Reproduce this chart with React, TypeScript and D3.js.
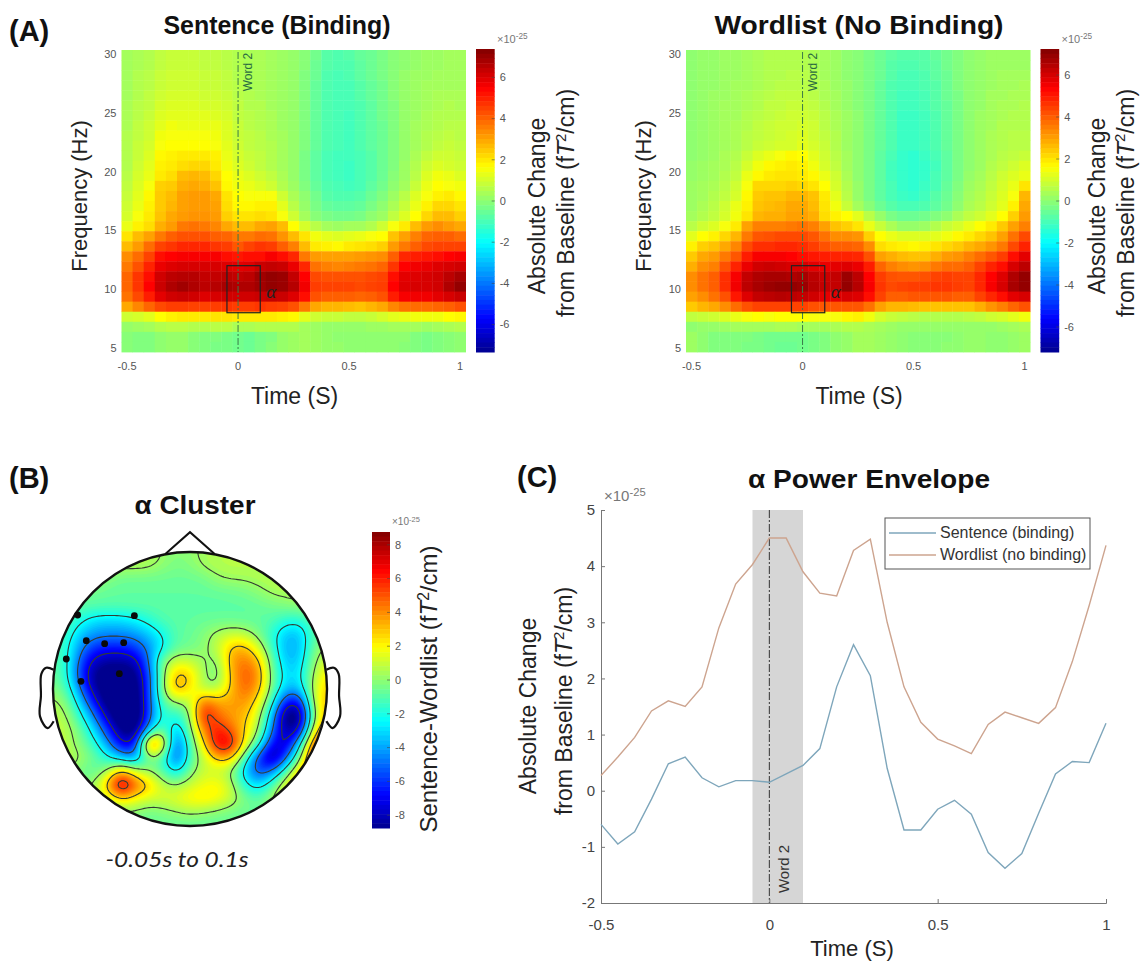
import React, { useEffect, useRef } from "react";
import * as d3 from "d3";

// time axis shared by every panel
const times = d3.range(31).map((i) => -0.5 + i * 0.05);
const timeTicks = [-0.5, 0, 0.5, 1];
const freqTicks = [5, 10, 15, 20, 25, 30];
const cbTicks = [-6, -4, -2, 0, 2, 4, 6];
const topoTicks = [-8, -6, -4, -2, 0, 2, 4, 6, 8];

// TFR cells, first row is the top of the plot (30 Hz), units of 1e-25
const sentenceTFR = [
  [.3,.4,.5,.7,.8,.8,.8,.7,.7,.6,.5,.4,.4,.3,.2,.1,-.1,-.4,-.8,-.9,-.8,-.6,-.5,-.3,-.1,0,.1,.2,.2,.3,.3],
  [.3,.4,.5,.7,.8,.8,.8,.7,.7,.6,.5,.4,.4,.3,.2,.1,-.1,-.5,-.8,-.9,-.9,-.7,-.5,-.3,-.1,0,.1,.2,.2,.3,.3],
  [.3,.5,.6,.8,.9,.9,.9,.8,.8,.7,.5,.4,.4,.3,.2,.1,-.2,-.5,-.9,-1,-.9,-.7,-.5,-.3,-.1,.1,.2,.2,.3,.3,.3],
  [.3,.5,.6,.8,.9,.9,.9,.8,.8,.7,.6,.4,.4,.3,.2,.1,-.2,-.6,-.9,-1,-1,-.8,-.6,-.4,-.1,.1,.2,.3,.3,.3,.3],
  [.3,.5,.7,.9,1,1,1,.9,.9,.8,.6,.5,.4,.3,.2,.1,-.2,-.6,-.9,-1,-1,-.8,-.6,-.4,-.1,.1,.2,.3,.4,.4,.4],
  [.4,.6,.7,1,1.1,1.1,1.1,1,1,.9,.7,.5,.5,.3,.2,.1,-.2,-.6,-.9,-1,-1,-.9,-.7,-.4,-.2,.1,.2,.3,.4,.5,.4],
  [.4,.6,.8,1.1,1.2,1.2,1.2,1.2,1.1,1,.7,.6,.5,.4,.2,.1,-.2,-.6,-.9,-1,-1.1,-.9,-.7,-.4,-.2,.1,.2,.4,.5,.5,.5],
  [.4,.7,.9,1.2,1.4,1.3,1.3,1.3,1.3,1.1,.8,.6,.5,.4,.2,.1,-.2,-.6,-.9,-1,-1.1,-.9,-.7,-.5,-.2,.1,.3,.4,.5,.6,.6],
  [.5,.7,.9,1.4,1.5,1.5,1.5,1.5,1.4,1.1,.8,.7,.6,.4,.3,.1,-.2,-.6,-.9,-1,-1.1,-.9,-.7,-.5,-.2,.1,.3,.5,.6,.7,.6],
  [.5,.8,1,1.5,1.6,1.6,1.6,1.6,1.5,1.2,.9,.7,.6,.5,.3,.1,-.2,-.6,-.9,-1,-1.1,-.9,-.7,-.5,-.2,.1,.3,.5,.7,.8,.7],
  [.5,.8,1.1,1.7,1.8,1.9,1.9,1.9,1.8,1.3,1,.8,.7,.5,.3,.1,-.3,-.7,-1,-1.1,-1.1,-1,-.8,-.5,-.2,.1,.4,.7,.9,.9,.8],
  [.5,.9,1.2,1.8,1.9,2.1,2.2,2.2,1.9,1.4,1.1,.9,.7,.5,.3,.1,-.3,-.7,-1,-1.1,-1.2,-1,-.8,-.5,-.2,.2,.5,.9,1.1,1,.9],
  [.6,1,1.3,1.9,2.1,2.6,2.7,2.6,2.2,1.6,1.3,1.1,.9,.7,.4,.1,-.3,-.7,-1,-1.1,-1.2,-1,-.8,-.5,-.1,.2,.6,1.1,1.4,1.3,1.1],
  [.7,1.1,1.5,2.3,2.4,2.8,2.9,2.8,2.5,1.7,1.4,1.3,1.1,.9,.5,.2,-.2,-.6,-.9,-1,-1.1,-1,-.7,-.4,0,.3,.8,1.3,1.6,1.5,1.4],
  [.8,1.2,1.7,2.4,2.6,3,3.1,3.1,2.9,2,1.6,1.5,1.5,1.5,.9,.4,0,-.4,-.8,-.9,-.9,-.8,-.5,-.2,.2,.6,1.1,1.5,1.8,1.9,1.7],
  [.9,1.3,1.8,2.4,2.7,3,3.1,3.1,3,2.1,1.7,1.7,1.8,1.8,1.2,.6,.1,-.3,-.6,-.7,-.7,-.6,-.3,0,.4,.8,1.3,1.8,2.2,2.2,2],
  [1,1.5,1.9,2.5,2.9,3.1,3.2,3.2,3.1,2.3,2,2,2.1,2,1.5,.9,.3,-.1,-.3,-.4,-.4,-.3,0,.2,.7,1.1,1.6,2.2,2.6,2.6,2.3],
  [1.3,1.8,2.1,2.8,3.1,3.6,3.7,3.6,3.4,2.9,2.6,2.6,2.9,3,2.6,1.6,1,.6,.3,.2,.3,.3,.5,.9,1.5,1.9,2.6,3.1,3.3,3.1,2.9],
  [2,2.6,3,3.6,4,4.2,4.2,4.2,4,3.9,3.6,3.6,3.8,3.7,3.2,2.6,2,1.4,1.2,1.1,1.2,1.3,1.5,1.6,2.5,3,3.5,3.9,4,4,3.8],
  [2.6,3.1,3.8,4.4,4.6,4.8,4.8,4.8,4.6,4.5,4.1,4.4,4.6,4.5,4,3.5,2.6,1.9,1.8,1.7,1.9,2,2.1,2.3,3.1,3.6,4,4.3,4.4,4.4,4.4],
  [3.3,3.8,4.4,5.3,5.4,5.5,5.5,5.5,5.5,5.3,5.1,5.2,5.3,5.5,5.2,4.8,3.6,3.1,3,3,3,3.1,3.2,3.3,4,4.8,5,5.1,5.3,5.4,5.5],
  [3.6,4.2,4.9,5.7,5.9,6,6,6,6,5.9,5.8,5.9,6.2,6.3,6.2,5.7,4.8,3.7,3.5,3.4,3.5,3.6,3.7,3.9,4.6,5.4,5.6,5.7,5.9,6,6.1],
  [3.9,4.6,5.3,6.1,6.4,6.5,6.5,6.3,6.3,6.4,6.3,6.4,6.8,7,6.9,6.3,5.4,4.3,4.2,4.2,4.2,4.2,4.3,4.4,5.2,5.8,5.9,6,6.1,6.4,6.7],
  [3.9,4.6,5.4,6.2,6.6,6.8,6.6,6.4,6.5,6.7,6.6,6.6,6.8,7,6.9,6.5,5.6,4.5,4.4,4.4,4.4,4.3,4.4,4.5,5.4,5.9,6,6,6.1,6.6,7],
  [3.7,4.3,5,5.8,6.1,6.2,6.1,5.9,6,6.1,6.1,6.1,6.2,6.3,6.2,5.9,5.2,4.2,4,4,4,3.9,4,4.2,5,5.5,5.6,5.6,5.8,6,6.2],
  [2.9,3.4,3.9,4.3,4.5,4.5,4.4,4.4,4.5,4.6,4.5,4.5,4.6,4.5,4.4,4.2,3.6,2.9,2.7,2.7,2.6,2.5,2.7,2.9,3.4,3.7,3.8,3.8,3.9,4,4.2],
  [.9,1,1.2,1.6,1.8,1.9,1.9,1.9,2,2,1.9,1.9,1.9,1.9,1.8,1.7,1.2,.9,.8,.8,.7,.7,.8,1,1.2,1.3,1.4,1.4,1.4,1.6,1.7],
  [.1,.2,.3,.5,.6,.6,.5,.5,.6,.6,.4,.4,.5,.5,.5,.5,.3,.2,.1,.1,.1,.1,.2,.2,.3,.3,.3,.2,.3,.4,.5],
  [-.1,-.2,-.2,0,.1,.1,-.1,-.2,-.2,-.3,-.4,-.5,-.3,-.2,.1,.2,.3,.2,.1,0,0,0,0,0,0,0,-.2,-.3,-.2,-.1,0],
  [-.1,-.2,-.2,0,.1,.1,-.1,-.2,-.3,-.3,-.4,-.5,-.3,-.1,.1,.2,.3,.2,.1,.1,0,0,0,0,0,-.1,-.2,-.3,-.2,-.1,0],
];

const wordlistTFR = [
  [0,.1,.1,.2,.2,.3,.4,.5,.5,.5,.5,.4,.3,.2,0,-.1,-.3,-.5,-.7,-.8,-.8,-.8,-.6,-.4,-.2,0,.1,.2,.2,.2,.2],
  [0,.1,.1,.2,.2,.3,.4,.5,.5,.5,.5,.4,.3,.2,0,-.1,-.3,-.5,-.8,-.9,-.9,-.8,-.7,-.4,-.2,0,.1,.2,.2,.2,.2],
  [0,.1,.1,.2,.2,.3,.4,.5,.5,.6,.6,.5,.3,.2,0,-.1,-.3,-.5,-.8,-1,-1,-.9,-.7,-.5,-.2,0,.1,.2,.3,.3,.3],
  [0,.1,.1,.2,.3,.3,.4,.5,.6,.6,.6,.5,.4,.2,.1,-.1,-.3,-.6,-.9,-1,-1,-.9,-.8,-.5,-.2,0,.1,.2,.3,.3,.4],
  [0,.1,.2,.2,.3,.4,.5,.6,.7,.7,.7,.6,.4,.3,.1,-.1,-.3,-.6,-.9,-1.1,-1.1,-1,-.8,-.5,-.3,0,.1,.3,.3,.4,.4],
  [0,.1,.2,.3,.3,.4,.5,.7,.7,.8,.8,.7,.5,.3,.1,-.1,-.3,-.6,-.9,-1.1,-1.1,-1,-.8,-.6,-.3,0,.1,.3,.4,.4,.5],
  [0,.1,.2,.3,.3,.5,.6,.7,.8,.9,.9,.8,.6,.4,.2,0,-.3,-.6,-.9,-1.2,-1.2,-1.1,-.9,-.6,-.3,0,.2,.3,.4,.5,.5],
  [0,.1,.2,.3,.4,.5,.7,.8,.9,.9,1,.9,.6,.4,.2,0,-.3,-.6,-.9,-1.2,-1.2,-1.1,-.9,-.6,-.3,0,.2,.3,.5,.5,.5],
  [0,.1,.2,.3,.4,.6,.7,.8,.9,1,1.1,.9,.7,.5,.2,0,-.3,-.6,-.9,-1.2,-1.2,-1.1,-.9,-.6,-.3,0,.2,.4,.5,.6,.6],
  [0,.1,.2,.3,.4,.6,.8,.9,1,1,1.2,1,.8,.5,.2,0,-.3,-.6,-.9,-1.2,-1.2,-1.1,-.9,-.6,-.3,0,.2,.4,.5,.6,.6],
  [0,.1,.2,.4,.5,.8,1.1,1.3,1.5,1.7,1.6,1.2,.9,.6,.3,0,-.3,-.7,-1,-1.3,-1.4,-1.2,-1,-.7,-.3,0,.2,.4,.6,.7,.8],
  [.1,.2,.3,.4,.6,1,1.4,1.7,1.8,1.9,1.8,1.4,1,.7,.3,0,-.3,-.7,-1.1,-1.3,-1.4,-1.3,-1.1,-.7,-.3,0,.2,.5,.7,.9,1.1],
  [.1,.2,.3,.5,.7,1.3,1.7,1.9,2,2,1.9,1.7,1.3,.9,.4,0,-.3,-.7,-1.1,-1.3,-1.4,-1.3,-1,-.7,-.3,.1,.3,.6,.9,1.1,1.3],
  [.2,.3,.4,.6,.9,1.5,2.2,2.2,2.2,2.3,2.2,2,1.6,1,.5,.1,-.3,-.7,-1,-1.3,-1.4,-1.2,-1,-.6,-.2,.2,.4,.7,1,1.3,2],
  [.2,.3,.5,.7,1,1.7,2.4,2.5,2.5,2.7,2.7,2.5,1.9,1.2,.6,.1,-.3,-.7,-1,-1.2,-1.3,-1.1,-.8,-.5,-.1,.3,.5,.8,1.1,1.5,2.7],
  [.2,.4,.6,.9,1.3,1.8,2.5,2.6,2.7,2.9,2.9,2.6,2,1.4,.8,.3,-.1,-.5,-.8,-1,-1,-.9,-.7,-.4,0,.4,.6,.9,1.2,1.8,2.9],
  [.3,.5,.7,1,1.4,2,2.7,2.8,2.8,3,3,2.8,2.1,1.8,1.6,1.2,.6,.1,-.3,-.5,-.5,-.4,-.2,0,.4,.7,.9,1.2,1.6,2.3,3.1],
  [.6,.9,1.1,1.5,1.9,3,3.5,3.5,3.5,3.6,3.7,3.5,3,2.5,2.3,2,1.3,.8,.4,.1,.1,.2,.5,.8,1,1.3,1.6,1.9,2.4,3,3.5],
  [1.2,1.6,1.8,2.2,2.7,3.6,4.1,4.2,4.3,4.3,4.3,4.1,3.7,3.3,3.3,3.2,2.3,1.6,1.3,1.1,1.1,1.1,1.2,1.4,1.7,1.9,2.2,2.5,3,3.7,4.3],
  [1.8,2.3,2.5,2.9,3.4,4.3,4.7,4.7,4.8,4.8,4.7,4.5,4.2,4,4,3.9,3.3,2.1,1.9,1.8,1.7,1.8,2,2.2,2.4,2.7,2.9,3.2,3.6,4.3,4.9],
  [2.4,2.9,3.1,3.6,4.1,5,5.5,5.5,5.5,5.4,5.2,5.1,5,4.9,4.9,4.8,4.2,3,2.8,2.6,2.5,2.5,2.8,3.1,3.2,3.5,3.8,4.1,4.5,5.2,5.8],
  [2.8,3.3,3.5,4.2,4.9,5.7,6.1,6.2,6.1,6,6,5.8,5.7,5.8,5.9,5.7,5,3.9,3.5,3.3,3.2,3.3,3.6,3.8,3.8,4,4.4,4.9,5.3,6,6.4],
  [3.3,3.7,4,4.7,5.5,6.3,6.6,6.7,6.7,6.6,6.7,6.4,6.2,6.3,6.9,6.4,5.4,4.5,4.2,4.1,4.1,4.2,4.4,4.5,4.4,4.4,4.8,5.4,5.9,6.6,7],
  [3.3,3.7,4,4.7,5.6,6.4,6.7,6.9,7,7,6.9,6.5,6.3,6.3,7,6.5,5.5,4.6,4.3,4.4,4.5,4.5,4.6,4.6,4.5,4.4,4.8,5.5,6,6.7,7],
  [3,3.3,3.7,4.2,5.1,5.9,6.3,6.4,6.5,6.4,6.3,6.1,5.8,5.8,6,5.9,5.2,4.4,4,4,4.1,4.1,4.1,4.1,4,4,4.4,4.8,5.3,5.8,6],
  [2.4,2.7,2.9,3.3,3.8,4.2,4.4,4.4,4.4,4.4,4.4,4.2,4.1,4.1,4.1,4.1,3.7,3,2.7,2.7,2.6,2.5,2.5,2.5,2.5,2.5,2.8,3.2,3.5,3.9,4.2],
  [.7,.8,.9,1.1,1.3,1.5,1.6,1.5,1.6,1.6,1.6,1.5,1.5,1.5,1.7,1.8,1.4,1,.8,.7,.6,.5,.5,.5,.5,.6,.7,.9,1,1.2,1.4],
  [0,.1,.1,.2,.3,.3,.3,.3,.4,.4,.3,.3,.3,.4,.5,.5,.4,.3,.2,.1,.1,.1,.1,.1,.1,.1,.1,.1,.2,.3,.4],
  [.2,0,-.2,-.2,-.2,-.2,-.3,-.4,-.4,-.4,-.4,-.3,-.2,0,.1,.3,.3,.2,.1,0,-.1,-.1,-.1,-.1,0,.1,.1,0,0,.1,.2],
  [.2,0,-.2,-.2,-.2,-.3,-.3,-.4,-.5,-.5,-.4,-.3,-.2,0,.1,.3,.3,.2,.1,0,-.1,-.1,-.1,0,0,.1,.1,0,0,.1,.2],
];

// scalp map values on a 21x21 grid over the head's bounding box
const topoGrid = [
  [.6,.6,.6,.6,.6,.6,.6,.6,.2,-.2,0,.4,.6,.7,.7,.7,.7,.7,.7,.7,.7],
  [.6,.6,.6,.6,.6,.6,.6,.5,0,-.4,-.2,.4,.6,.7,.7,.7,.7,.7,.7,.7,.7],
  [.2,.2,.2,.2,-.2,-.7,-.7,-.7,-.7,-.7,-.7,-.6,.1,.3,.3,.5,.6,.7,.7,.7,.7],
  [-.4,-.4,-.4,-.6,-.8,-.8,-.8,-.8,-.8,-.8,-.8,-.8,-.8,-.7,-.5,-.1,.4,.5,.6,.7,.7],
  [-.8,-.8,-.9,-.9,-.9,-.9,-.9,-.9,-.9,-.9,-.9,-.9,-.9,-.9,-.9,-.8,-.6,-.3,0,.3,.4],
  [-.8,-1,-2,-3,-3.2,-3.1,-2.6,-1.8,-1,-.9,-.8,-.7,-.7,-.7,-.8,-.8,-1,-1.8,-2,-.8,-.5],
  [-.9,-1.4,-3.4,-4.2,-4.4,-4.4,-4.2,-3.4,-2.3,-.9,-.7,-.2,.6,1,.8,-.4,-1.8,-3.6,-3.6,-1,-.3],
  [-1,-1.8,-4.4,-6.2,-6.6,-6.6,-6,-4.4,-2.6,-.8,-.6,-.1,.9,3.2,3.4,1.3,-1.5,-4,-3.8,-.5,.5],
  [-.8,-1.7,-5.5,-8,-8.6,-8.6,-8.2,-4.8,0,1.3,1,.2,-.3,3.7,4.6,3.4,-.8,-3.6,-3.4,0,1.5],
  [-.5,-1.8,-6,-9,-9.6,-9.6,-9.4,-5.6,-.2,3.6,3,.3,-1,3.2,5.2,4.2,-.6,-3,-2.9,.5,2.5],
  [0,-1.1,-4.8,-8.4,-10,-10.2,-10,-5.6,.1,4,2.2,.4,.5,2.9,5,3.5,-.5,-3.6,-3.6,1,3],
  [.5,0,-3.2,-6.6,-9.6,-10.4,-10.4,-5.4,-1,.1,.3,5.4,3.6,3.6,4,2,-1.8,-7,-7.6,1,3.5],
  [.8,.5,-1.7,-4.6,-8,-10.4,-10.6,-5.6,-1.5,-2.2,-.3,7,4.6,3.6,3.2,1,-3.6,-9.8,-10.2,0,3.5],
  [.9,.8,-.5,-3,-6,-9.2,-9.6,-3.4,-.3,-4.2,-.5,4.2,6.6,4.8,2.6,.5,-4.8,-8.8,-8,1.8,5],
  [.9,.7,-.2,-1.6,-4.2,-7.4,-7.6,6.5,3.5,-6.4,-1.1,2.2,7.4,7.2,2,-1.2,-7,-8.2,-3,4.8,7],
  [.8,.7,.5,-.6,-2,-3.8,-4.6,-.5,-1.2,-6.4,-1.1,.8,3.4,3.4,-1.2,-6,-9.8,-5.4,-.5,6.6,7],
  [.5,.2,-.5,-1.1,.2,3.6,.9,.1,-1.1,-3,-.3,1.1,.7,0,-3.4,-6.2,-4.6,-1.1,2.8,5.6,5],
  [-.3,-.3,-.3,.3,3.6,9.2,5.2,3.2,.9,.2,1.1,1.7,2.3,.9,-2,-3.2,-1.1,1.7,4,3.5,3.5],
  [-.5,-.5,-.3,.5,.9,2.6,1.6,1.1,1.2,1.7,2.3,2.6,2,1.1,-.3,-.9,.4,2.2,2,2,2],
  [-.8,-.8,-.8,-.5,-.3,-.2,-.1,-.6,-.3,0,.3,0,-.3,-.6,-.7,-.6,-.2,.5,.5,.5,.5],
  [-.8,-.8,-.8,-.8,-.8,-.8,-.8,-.8,-.8,-.8,-.8,-.8,-.8,-.8,-.8,-.8,-.8,-.8,-.8,-.8,-.8],
];
const topoLevels = [-7.3, -4.8, -2.3, 0.2, 2.7, 5.2, 7.7];

// head outline and sensors, in head radii from the centre (y grows downward)
const sensorX = [-0.82, -0.406, -0.757, -0.623, -0.484, -0.903, -0.516, -0.796];
const sensorY = [-0.54, -0.535, -0.353, -0.331, -0.338, -0.219, -0.112, -0.056];
const noseX = [-0.18, 0, 0.18];
const noseY = [-0.985, -1.145, -0.985];
const earX = [0.995, 1.05, 1.085, 1.088, 1.095, 1.04, 0.995];
const earY = [-0.14, -0.155, -0.11, 0.05, 0.2, 0.285, 0.235];

// alpha power envelope, 1e-25
const sentenceEnv = [-0.6, -0.95, -0.73, -0.15, 0.48, 0.6, 0.23, 0.07, 0.18, 0.18, 0.15, 0.3, 0.45, 0.75, 1.85, 2.6, 2.05, 0.4, -0.7, -0.7, -0.33, -0.17, -0.42, -1.1, -1.38, -1.12, -0.4, 0.3, 0.52, 0.5, 1.2];
const wordlistEnv = [0.27, 0.6, 0.95, 1.42, 1.6, 1.5, 1.85, 2.9, 3.68, 4.03, 4.5, 4.5, 3.9, 3.52, 3.47, 4.28, 4.48, 3, 1.85, 1.22, 0.92, 0.8, 0.66, 1.18, 1.4, 1.3, 1.2, 1.48, 2.3, 3.3, 4.37];
const envLabels = ["Sentence (binding)", "Wordlist (no binding)"];
const envColors = ["#7ea6bb", "#cda48f"];
const envTicks = [-2, -1, 0, 1, 2, 3, 4, 5];

const jet = d3
  .scaleLinear<string>()
  .domain([0, 0.11, 0.36, 0.61, 0.87, 1])
  .range(["#00008f", "#0000ff", "#00ffff", "#ffff00", "#ff0000", "#800000"])
  .clamp(true);

const SANS = "'Liberation Sans', Arial, sans-serif";
const TICK = "#555";

type Sel = d3.Selection<any, any, any, any>;

function label(g: Sel, x: number, y: number, txt: string, size: number, rotate = false) {
  return g
    .append("text")
    .attr("transform", `translate(${x},${y})${rotate ? " rotate(-90)" : ""}`)
    .attr("text-anchor", "middle")
    .attr("font-family", SANS)
    .attr("font-size", size)
    .attr("fill", "#222")
    .text(txt);
}

// "from Baseline (fT²/cm)" style label with italic T and raised 2
function unitLabel(g: Sel, x: number, y: number, before: string, size: number) {
  const t = label(g, x, y, "", size, true);
  t.append("tspan").text(before + " (f");
  t.append("tspan").attr("font-style", "italic").text("T");
  t.append("tspan").attr("dy", -size * 0.35).attr("font-size", size * 0.65).text("2");
  t.append("tspan").attr("dy", size * 0.35).text("/cm)");
}

// bold heading stretched to the width it has in the picture
function heading(g: Sel, x: number, y: number, txt: string, size: number, width: number) {
  return g
    .append("text")
    .attr("x", x)
    .attr("y", y)
    .attr("text-anchor", "middle")
    .attr("font-family", SANS)
    .attr("font-weight", 700)
    .attr("font-size", size)
    .attr("fill", "#111")
    .attr("textLength", width)
    .attr("lengthAdjust", "spacingAndGlyphs")
    .text(txt);
}

function exponent(g: Sel, x: number, y: number, size: number) {
  const t = g.append("text").attr("x", x).attr("y", y).attr("font-family", SANS).attr("font-size", size).attr("fill", "#777");
  t.append("tspan").text("×10");
  t.append("tspan").attr("dy", -size * 0.35).attr("font-size", size * 0.75).text("-25");
}

function colorbar(g: Sel, x: number, w: number, top: number, bottom: number, zeroY: number, perUnit: number, ticks: number[], fs: number) {
  const cy = d3.scaleLinear().domain([0, 1]).range([zeroY, zeroY - perUnit]);
  const levels = d3.range(64);
  const h = (bottom - top) / 64;
  g.append("g")
    .selectAll("rect")
    .data(levels)
    .join("rect")
    .attr("x", x)
    .attr("y", (d) => top + d * h)
    .attr("width", w)
    .attr("height", h + 0.5)
    .attr("fill", (d) => jet(1 - (d + 0.5) / 64));
  const tk = g.append("g").attr("font-family", SANS).attr("font-size", fs).attr("fill", TICK);
  tk.selectAll("text")
    .data(ticks)
    .join("text")
    .attr("x", x + w + 5)
    .attr("y", (d) => cy(d) + fs * 0.35)
    .text((d) => d);
  tk.selectAll("line")
    .data(ticks)
    .join("line")
    .attr("x1", x + w - 3)
    .attr("x2", x + w)
    .attr("y1", (d) => cy(d))
    .attr("y2", (d) => cy(d))
    .attr("stroke", "#444")
    .attr("stroke-width", 0.6);
}

function drawTFR(svg: Sel, left: number, matrix: number[][], title: string, titleX: number, titleW: number, cbZero: number, cbUnit: number, labelShift: number) {
  const g = svg.append("g");
  const cellW = 11.1;
  const x = d3.scaleLinear().domain([-0.5, 1]).range([left + cellW / 2, left + cellW / 2 + 333]);
  const band = d3.scaleBand<number>().domain(d3.range(matrix.length)).range([50, 352]);
  const y = d3.scaleLinear().domain([5, 30]).range([348, 54]);
  const color = d3.scaleLinear().domain([-7.3, 7.3]).range([0, 1]);

  const cells = g.append("g").attr("filter", "url(#soft)");
  matrix.forEach((row, r) => {
    cells
      .append("g")
      .selectAll("rect")
      .data(row)
      .join("rect")
      .attr("x", (_, j) => x(times[j]) - cellW / 2)
      .attr("y", band(r)!)
      .attr("width", cellW + 0.4)
      .attr("height", band.bandwidth() + 0.4)
      .attr("fill", (d) => jet(color(d)));
  });

  // Word 2 onset and alpha window
  g.append("line")
    .attr("x1", x(0)).attr("x2", x(0)).attr("y1", 52).attr("y2", 352)
    .attr("stroke", "#3a7a4a").attr("stroke-width", 1).attr("stroke-dasharray", "7 2 2 2");
  label(g, x(0) + 14, 72, "Word 2", 12, true).attr("fill", "#2c6b40");
  g.append("rect")
    .attr("x", x(-0.05)).attr("y", y(12))
    .attr("width", x(0.1) - x(-0.05)).attr("height", y(8) - y(12))
    .attr("fill", "none").attr("stroke", "#222").attr("stroke-width", 1.2);
  g.append("text")
    .attr("x", x(0.1) + 6).attr("y", 298)
    .attr("font-family", "'Liberation Serif', serif").attr("font-style", "italic")
    .attr("font-size", 19).attr("fill", "#222").text("α");

  const tk = g.append("g").attr("font-family", SANS).attr("font-size", 11).attr("fill", TICK);
  tk.append("g").selectAll("text").data(timeTicks).join("text")
    .attr("x", (d) => x(d)).attr("y", 370).attr("text-anchor", "middle").text((d) => d);
  tk.append("g").selectAll("text").data(freqTicks).join("text")
    .attr("x", left - 5).attr("y", (d) => y(d) + 4).attr("text-anchor", "end").text((d) => d);

  label(g, left - 35, 196, "Frequency (Hz)", 22, true);
  label(g, x(0.25) + 1, 404, "Time (S)", 23);

  const cbX = left + 354.5;
  colorbar(g, cbX, 18.7, 49, 352, cbZero, cbUnit, cbTicks, 11);
  exponent(g, cbX + 21, 43, 11);
  label(g, cbX + 69 + labelShift, 206, "Absolute Change", 23, true);
  unitLabel(g, cbX + 98 + labelShift, 203, "from Baseline", 23);

  heading(g, titleX, 34, title, 26, titleW);
}

function drawTopo(svg: Sel) {
  const g = svg.append("g");
  const cx = 190, cy = 689, r = 137;
  const hx = d3.scaleLinear().domain([-1, 1]).range([cx - r, cx + r]);
  const hy = d3.scaleLinear().domain([-1, 1]).range([cy - r, cy + r]);

  // resample the grid so the contours come out smooth
  const k = 6;
  const src = topoGrid.length;
  const n = (src - 1) * k + 1;
  const values = new Float64Array(n * n);
  for (let j = 0; j < n; j++) {
    for (let i = 0; i < n; i++) {
      const gx = i / k, gy = j / k;
      const x0 = Math.min(Math.floor(gx), src - 2), y0 = Math.min(Math.floor(gy), src - 2);
      const fx = gx - x0, fy = gy - y0;
      values[j * n + i] =
        topoGrid[y0][x0] * (1 - fx) * (1 - fy) + topoGrid[y0][x0 + 1] * fx * (1 - fy) +
        topoGrid[y0 + 1][x0] * (1 - fx) * fy + topoGrid[y0 + 1][x0 + 1] * fx * fy;
    }
  }
  d3.blur2({ data: values, width: n, height: n }, 2.2);

  const s = (2 * r) / (n - 1);
  const path = d3.geoPath(d3.geoIdentity().scale(s).translate([cx - r - s / 2, cy - r - s / 2]) as any);
  const fillColor = d3.scaleLinear().domain([-8.76, 8.76]).range([0, 1]);

  g.append("clipPath").attr("id", "head").append("circle").attr("cx", cx).attr("cy", cy).attr("r", r);
  const inside = g.append("g").attr("clip-path", "url(#head)");
  inside.append("circle").attr("cx", cx).attr("cy", cy).attr("r", r).attr("fill", jet(fillColor(-11)));
  inside.append("g").selectAll("path")
    .data(d3.contours().size([n, n]).thresholds(d3.range(-11, 11.01, 0.2))(values as any))
    .join("path")
    .attr("d", path as any)
    .attr("fill", (d: any) => jet(fillColor(d.value + 0.1)));
  inside.append("g").selectAll("path")
    .data(d3.contours().size([n, n]).thresholds(topoLevels)(values as any))
    .join("path")
    .attr("d", path as any)
    .attr("fill", "none")
    .attr("stroke", "#333d33")
    .attr("stroke-width", 1.1);

  g.append("circle").attr("cx", cx).attr("cy", cy).attr("r", r)
    .attr("fill", "none").attr("stroke", "#111").attr("stroke-width", 2.4);

  const outline = d3.line<number>().x((d) => hx(d)).y((_, i) => hy(noseY[i]));
  g.append("path").attr("d", outline(noseX)!).attr("fill", "none").attr("stroke", "#111").attr("stroke-width", 2);
  const ear = d3.line<number>().curve(d3.curveCatmullRom)
    .x((d) => hx(d)).y((_, i) => hy(earY[i]));
  g.append("path").attr("d", ear(earX)!).attr("fill", "none").attr("stroke", "#111").attr("stroke-width", 2.2);
  g.append("path").attr("d", ear(earX.map((d) => -d))!).attr("fill", "none").attr("stroke", "#111").attr("stroke-width", 2.2);

  g.append("g").selectAll("circle").data(sensorX).join("circle")
    .attr("cx", (d) => hx(d)).attr("cy", (_, i) => hy(sensorY[i])).attr("r", 3.4).attr("fill", "#0a0a0a");

  colorbar(g, 372, 18, 532, 828, 680, 16.9, topoTicks, 11);
  exponent(g, 392, 525, 10);
  unitLabel(g, 437, 689, "Sentence-Wordlist", 24);

  heading(g, 195, 514, "α Cluster", 26, 121);
  g.append("text").attr("x", 177).attr("y", 867).attr("text-anchor", "middle")
    .attr("font-family", "Lato, sans-serif").attr("font-style", "italic").attr("font-size", 21).attr("fill", "#222")
    .attr("textLength", 143).attr("lengthAdjust", "spacingAndGlyphs").text("-0.05s to 0.1s");
}

function drawEnvelope(svg: Sel) {
  const g = svg.append("g");
  const x = d3.scaleLinear().domain([-0.5, 1]).range([601, 1106]);
  const y = d3.scaleLinear().domain([-2, 5]).range([903, 510]);

  g.append("rect").attr("x", x(-0.05)).attr("y", 510).attr("width", x(0.1) - x(-0.05)).attr("height", 393).attr("fill", "#d6d6d6");
  g.append("line").attr("x1", x(0)).attr("x2", x(0)).attr("y1", 510).attr("y2", 903)
    .attr("stroke", "#333").attr("stroke-width", 1).attr("stroke-dasharray", "8 2 2 2");
  label(g, x(0) + 20, 869, "Word 2", 15, true).attr("fill", "#333");

  const axB = g.append("g").attr("transform", "translate(0,903)")
    .call(d3.axisBottom(x).tickValues(timeTicks).tickSize(-4).tickPadding(16).tickFormat((d) => String(d)));
  const axL = g.append("g").attr("transform", "translate(601,0)")
    .call(d3.axisLeft(y).tickValues(envTicks).tickSize(-4).tickPadding(6).tickFormat((d) => String(d)));
  [axB, axL].forEach((a) => {
    a.selectAll("path,line").attr("stroke", "#777");
    a.selectAll("text").attr("font-family", SANS).attr("font-size", 15).attr("fill", "#444");
  });

  const line = d3.line<number>().x((_, i) => x(times[i])).y((d) => y(d));
  [sentenceEnv, wordlistEnv].forEach((s, i) => {
    g.append("path").attr("d", line(s)!).attr("fill", "none").attr("stroke", envColors[i]).attr("stroke-width", 1.4);
  });

  const lg = g.append("g");
  lg.append("rect").attr("x", 885).attr("y", 518).attr("width", 205).attr("height", 51)
    .attr("fill", "#fff").attr("stroke", "#555").attr("stroke-width", 1);
  envLabels.forEach((t, i) => {
    const ly = 533 + i * 22;
    lg.append("line").attr("x1", 889).attr("x2", 936).attr("y1", ly).attr("y2", ly).attr("stroke", envColors[i]).attr("stroke-width", 1.4);
    lg.append("text").attr("x", 940).attr("y", ly + 5).attr("font-family", SANS).attr("font-size", 16).attr("fill", "#333").text(t);
  });

  exponent(g, 604, 501, 15);
  label(g, 536, 706, "Absolute Change", 23, true);
  unitLabel(g, 572, 701, "from Baseline", 23);
  label(g, 852, 956, "Time (S)", 22);
  heading(g, 869, 488, "α Power Envelope", 26, 242);
}

export default function App() {
  const ref = useRef<SVGSVGElement>(null);

  useEffect(() => {
    const svg = d3.select(ref.current);
    svg.selectAll("*").remove();

    // the source image is a slightly soft screenshot
    svg.append("defs").append("filter").attr("id", "soft")
      .append("feGaussianBlur").attr("stdDeviation", 0.7);

    drawTFR(svg, 121.5, sentenceTFR, "Sentence (Binding)", 277, 227, 201, 20.6, 0);
    drawTFR(svg, 686, wordlistTFR, "Wordlist (No Binding)", 859, 289, 201, 21, -5);
    drawTopo(svg);
    drawEnvelope(svg);

    [["(A)", 9, 41], ["(B)", 9, 488], ["(C)", 517, 487]].forEach(([t, x, y]) => {
      svg.append("text").attr("x", x).attr("y", y)
        .attr("font-family", SANS).attr("font-weight", 700).attr("font-size", 29).attr("fill", "#111").text(t as string);
    });
  }, []);

  return (
    <svg
      ref={ref}
      width={1140}
      height={965}
      style={{ position: "absolute", left: 0, top: 0, background: "#fff" }}
    />
  );
}
